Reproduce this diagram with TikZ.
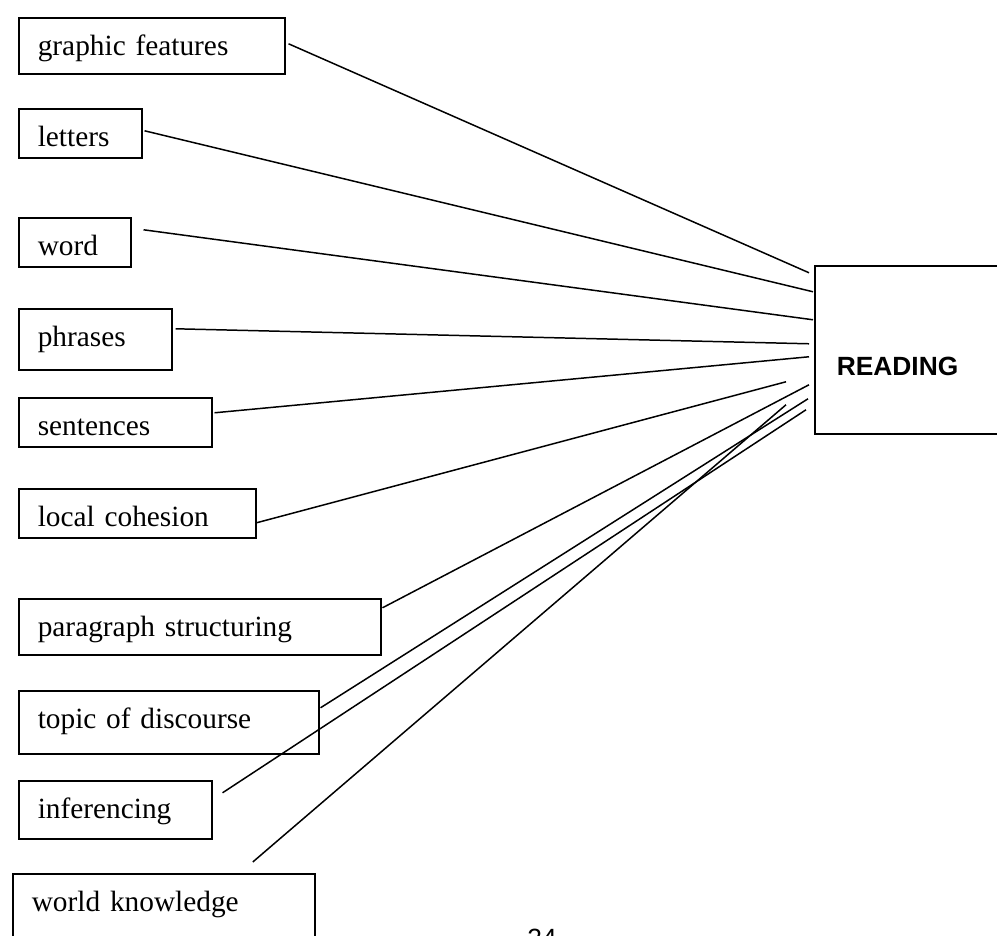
\documentclass[tikz,border=0pt]{standalone}
\usepackage{fontspec}
\setmainfont{Liberation Serif}
\newfontfamily\labelsans{Liberation Sans}
\usetikzlibrary{calc}

\tikzset{
  item/.style 2 args={draw, line width=0.9pt, anchor=north west,
    inner xsep=0.38cm, inner ysep=0pt, text height=0.76cm,
    text width=#1, text depth=#2, align=left,
    font=\fontsize{16.7}{20}\selectfont},
  link/.style={line width=0.85pt}
}

\begin{document}
\begin{tikzpicture}[x=0.02cm, y=-0.02cm]
  \useasboundingbox (0,0) rectangle (997,936);

  % Cajas de la izquierda
  \node[item={4.56cm}{0.36cm}] (graphic)   at (18,17)  {graphic features};
  \node[item={1.70cm}{0.22cm}] (letters)   at (18,108) {letters};
  \node[item={1.48cm}{0.22cm}] (word)      at (18,217) {word};
  \node[item={2.30cm}{0.46cm}] (phrases)   at (18,308) {phrases};
  \node[item={3.10cm}{0.22cm}] (sentences) at (18,397) {sentences};
  \node[item={3.98cm}{0.22cm}] (cohesion)  at (18,488) {local cohesion};
  \node[item={6.48cm}{0.36cm}] (paragraph) at (18,598) {paragraph structuring};
  \node[item={5.24cm}{0.50cm}] (topic)     at (18,690) {topic of discourse};
  \node[item={3.10cm}{0.40cm}] (inference) at (18,780) {inferencing};
  \node[item={5.28cm}{0.64cm}] (world)     at (12,873) {world knowledge};

  % Caja de destino
  \node[draw, line width=0.9pt, anchor=north west, inner xsep=0.44cm,
    inner ysep=0pt, text width=3.12cm, text height=2.2cm, text depth=1.16cm,
    font=\labelsans\bfseries\fontsize{15}{18}\selectfont] (reading) at (814,265) {READING};

  % Conexiones
  \draw[link] ($(graphic.east)+(3,-2)$)     -- ($(reading.west)+(-5,-77)$);
  \draw[link] ($(letters.east)+(2,-2.5)$)   -- ($(reading.west)+(-1,-58)$);
  \draw[link] ($(word.east)+(12,-12.5)$)    -- ($(reading.west)+(-1,-30)$);
  \draw[link] ($(phrases.east)+(3,-10.5)$)  -- ($(reading.west)+(-5,-6)$);
  \draw[link] ($(sentences.east)+(2,-9.5)$) -- ($(reading.west)+(-5,7)$);
  \draw[link] ($(cohesion.east)+(0,9.5)$)   -- ($(reading.west)+(-28,32)$);
  \draw[link] ($(paragraph.east)+(1,-19)$)  -- ($(reading.west)+(-5,35)$);
  \draw[link] ($(topic.east)+(1,-14.5)$)    -- ($(reading.west)+(-6,49)$);
  \draw[link] ($(inference.east)+(10,-17)$) -- ($(reading.west)+(-8,60)$);
  \draw[link] ($(world.north)+(89,-11)$)    -- ($(reading.west)+(-28,55)$);

  % Número de página (cortado)
  \node[anchor=north west, inner sep=0pt,
    font=\labelsans\fontsize{15}{18}\selectfont] (pagenum) at (527,929) {24};
\end{tikzpicture}
\end{document}
